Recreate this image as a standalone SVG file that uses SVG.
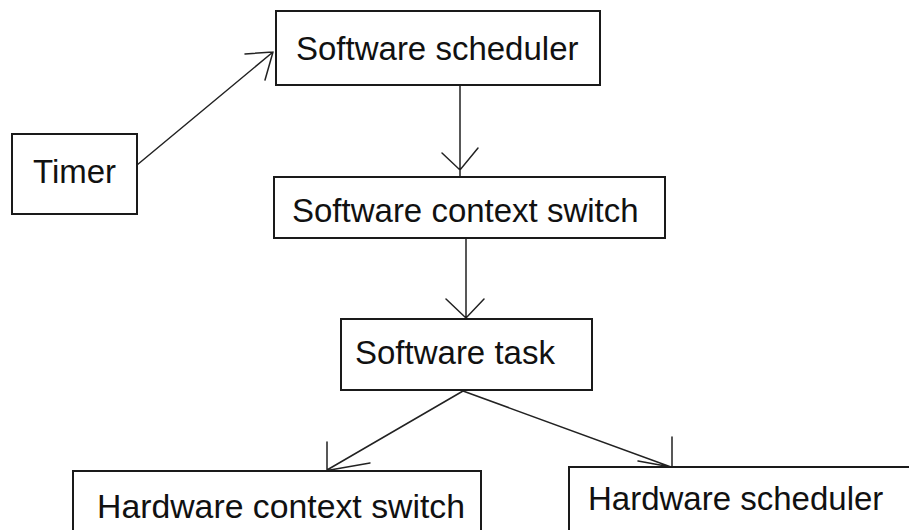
<svg xmlns="http://www.w3.org/2000/svg" width="909" height="530" viewBox="0 0 909 530">
<style>
.box{fill:#fff;stroke:#1a1a1a;stroke-width:2}
.lbl{font-family:"Liberation Sans",Arial,sans-serif;font-size:33px;fill:#111}
.ln{stroke:#222;stroke-width:1.5;fill:none;stroke-linecap:round}
</style>
<rect width="909" height="530" fill="#fff"/>
<g id="connectors">
<path class="ln" d="M137,165 L273,52 M245,54 L273,52 M265,80 L273,52"/>
<path class="ln" d="M460,85 L460,177 M442,153 L460,170 L478,148"/>
<path class="ln" d="M466,238 L466,319 M446,299 L466,318 L484,299"/>
<path class="ln" d="M463,391 L327,470 M327,442 L327,470 M370,463 L330,470"/>
<path class="ln" d="M463,391 L671,467 M672,437 L672,467 M638,461 L671,467"/>
</g>
<g id="timer"><rect class="box" x="12" y="134" width="125" height="80"/><text class="lbl" x="33" y="183">Timer</text></g>
<g id="sw-scheduler"><rect class="box" x="276" y="11" width="324" height="74"/><text class="lbl" x="296" y="60">Software scheduler</text></g>
<g id="sw-context-switch"><rect class="box" x="274" y="177" width="391" height="61"/><text class="lbl" x="292" y="222">Software context switch</text></g>
<g id="sw-task"><rect class="box" x="341" y="319" width="251" height="71"/><text class="lbl" x="355" y="364">Software task</text></g>
<g id="hw-context-switch"><rect class="box" x="73" y="471" width="408" height="80"/><text class="lbl" x="97" y="518" textLength="368" lengthAdjust="spacingAndGlyphs">Hardware context switch</text></g>
<g id="hw-scheduler"><rect class="box" x="569" y="467" width="360" height="80"/><text class="lbl" x="588" y="510">Hardware scheduler</text></g>
</svg>
